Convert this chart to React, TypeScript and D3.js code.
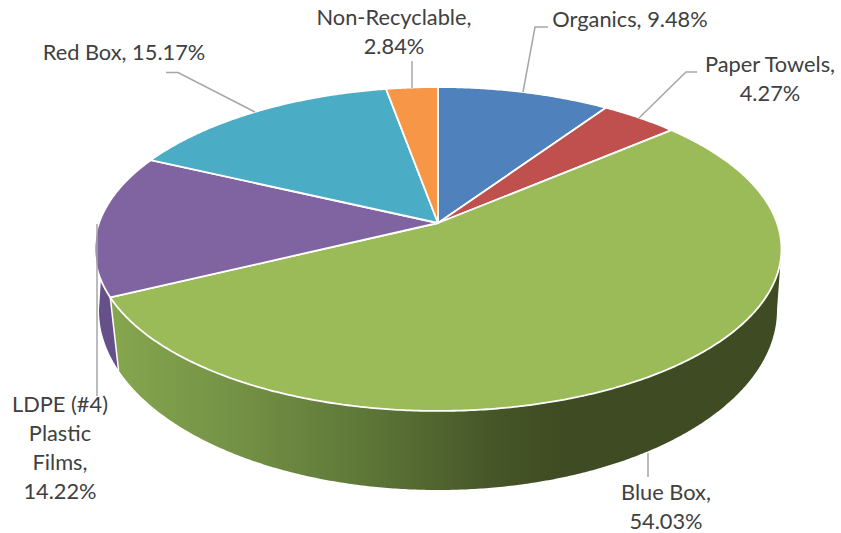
import React from "react";
import * as d3 from "d3";

const categories = ["Organics", "Paper Towels", "Blue Box", "LDPE (#4) Plastic Films", "Red Box", "Non-Recyclable"];
const shares = [9.48, 4.27, 54.03, 14.22, 15.17, 2.84];
const colors = ["#4f81bd", "#c0504d", "#9bbb59", "#8064a2", "#4bacc6", "#f79646"];
const labelLines = [
  ["Organics, 9.48%"],
  ["Paper Towels,", "4.27%"],
  ["Blue Box,", "54.03%"],
  ["LDPE (#4)", "Plastic", "Films,", "14.22%"],
  ["Red Box, 15.17%"],
  ["Non-Recyclable,", "2.84%"],
];

const W = 841, H = 533;
const apex = { x: 438, y: 223 };
const K = 0.1604, A = 339, B = 157.8;
const base = { x: 438, y: 310, rx: 339, ry: 180 };

const top = (t: number) => {
  const x = Math.sin(t), y = -Math.cos(t), d = 1 - K * y;
  return [apex.x + (A * x) / d, apex.y + (B * y) / d] as [number, number];
};
const bot = (t: number) =>
  [base.x + base.rx * Math.sin(t), base.y - base.ry * Math.cos(t)] as [number, number];
const line = d3.line();
const rim = (f: (t: number) => [number, number], a: number, b: number) => {
  const n = Math.max(2, Math.ceil(Math.abs(b - a) * 120));
  return d3.range(n + 1).map((i) => f(a + ((b - a) * i) / n));
};

const arcs = d3.pie<number>().sort(null).startAngle(0).endAngle(2 * Math.PI)(shares);

const labelPos = [
  { x: 630, y: 27 },
  { x: 770, y: 72 },
  { x: 666, y: 500 },
  { x: 60, y: 412 },
  { x: 124, y: 60 },
  { x: 394, y: 25 },
];
const leaders: [number, number][][] = [
  [[523, 92], [535, 27], [548, 27]],
  [[639, 118], [686, 72], [697, 72]],
  [[648, 453], [648, 477]],
  [[97, 224], [97, 396]],
  [[255, 112], [178, 72.5], [166, 72.5]],
  [[412, 88], [412, 61]],
];

export default function App() {
  const blue = arcs[2];
  const edgeBot = blue.endAngle + 0.113;
  const greenSide = [...rim(top, Math.PI * 0.55, blue.endAngle), ...rim(bot, edgeBot, Math.PI * 0.5)];
  const purpleSide = [...rim(top, blue.endAngle, Math.PI * 1.53), ...rim(bot, Math.PI * 1.5, edgeBot)];
  return (
    <svg width={W} height={H} style={{ position: "absolute", left: 0, top: 0, fontFamily: "Lato, sans-serif" }}>
      <defs>
        <linearGradient id="sideGrad" gradientUnits="userSpaceOnUse" x1={110} x2={560} y1={0} y2={0}>
          <stop offset="0" stopColor="#86a64f" />
          <stop offset="0.25" stopColor="#769446" />
          <stop offset="0.55" stopColor="#5f7939" />
          <stop offset="0.85" stopColor="#465628" />
          <stop offset="1" stopColor="#3f4b22" />
        </linearGradient>
      </defs>
      <path d={line(purpleSide)! + "Z"} fill="#66508a" />
      <path d={line(greenSide)! + "Z"} fill="url(#sideGrad)" />
      <line x1={top(blue.endAngle)[0]} y1={top(blue.endAngle)[1]} x2={bot(edgeBot)[0]} y2={bot(edgeBot)[1]} stroke="#fff" strokeWidth={1.5} />
      {arcs.map((a, i) => (
        <path
          key={categories[i]}
          d={line([[apex.x, apex.y], ...rim(top, a.startAngle, a.endAngle)])! + "Z"}
          fill={colors[i]}
          stroke="#fff"
          strokeWidth={1.8}
          strokeLinejoin="round"
        />
      ))}
      {leaders.map((l, i) => (
        <path key={i} d={line(l)!} fill="none" stroke="#a6a6a6" strokeWidth={1.5} />
      ))}
      {labelLines.map((ls, i) => (
        <text key={i} textAnchor="middle" fontSize={21.8} fill="#404040">
          {ls.map((s, j) => (
            <tspan key={j} x={labelPos[i].x} y={labelPos[i].y + j * 29}>{s}</tspan>
          ))}
        </text>
      ))}
    </svg>
  );
}
